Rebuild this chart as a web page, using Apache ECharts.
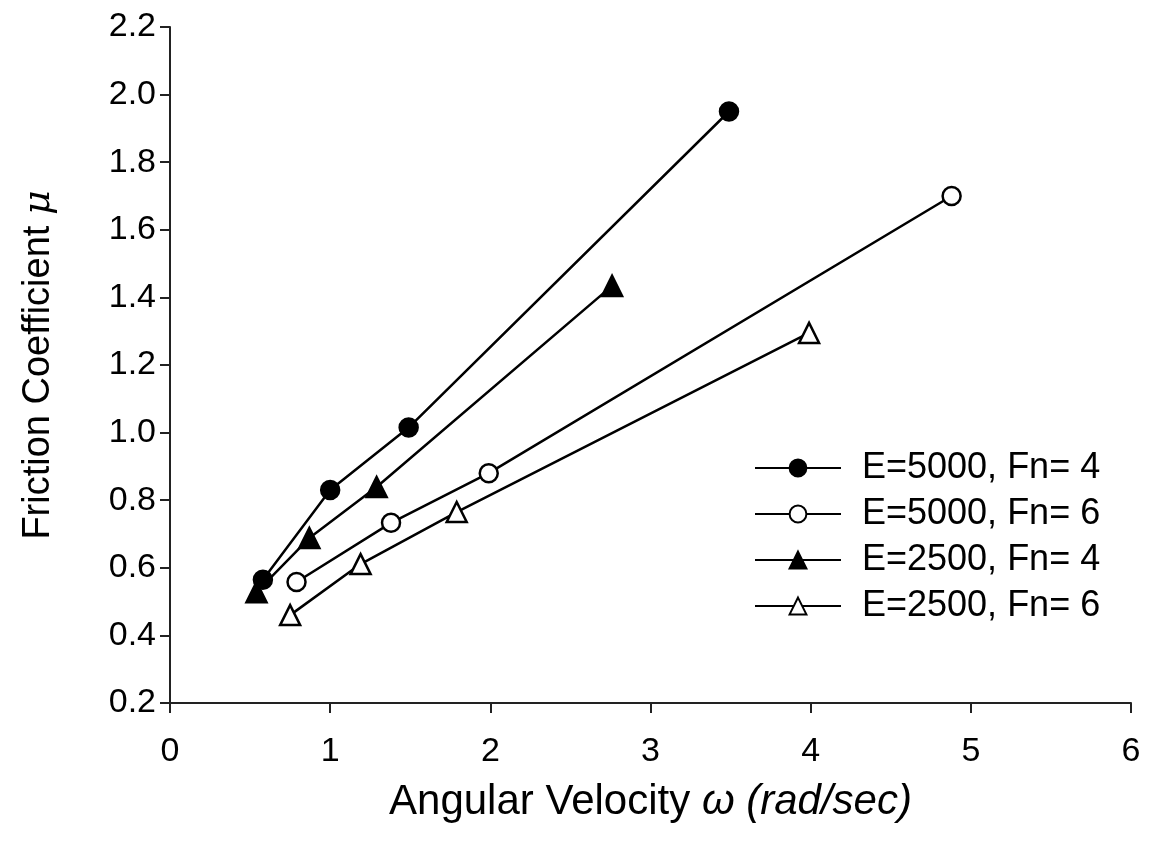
<!DOCTYPE html>
<html>
<head>
<meta charset="utf-8">
<script src="https://cdn.jsdelivr.net/npm/echarts@6/dist/echarts.min.js"></script>
<style>
  html, body { margin: 0; padding: 0; background: #fff; }
  #chart { width: 1152px; height: 850px; }
</style>
</head>
<body>
<div id="chart"></div>
<script>
// series names
var seriesNames = ["E=5000, Fn= 4", "E=5000, Fn= 6", "E=2500, Fn= 4", "E=2500, Fn= 6"];
// [angular velocity, friction coefficient]
var e5000fn4 = [[0.58, 0.565], [1.0, 0.83], [1.49, 1.015], [3.49, 1.95]];
var e5000fn6 = [[0.79, 0.558], [1.38, 0.733], [1.99, 0.88], [4.88, 1.70]];
var e2500fn4 = [[0.54, 0.528], [0.87, 0.688], [1.29, 0.839], [2.76, 1.434]];
var e2500fn6 = [[0.75, 0.46], [1.19, 0.611], [1.79, 0.765], [3.99, 1.295]];

var chart = echarts.init(document.getElementById("chart"));
var font = "Liberation Sans, Arial, sans-serif";

function makeSeries(name, data, symbol, filled) {
  return {
    name: name,
    type: "line",
    data: data,
    symbol: symbol,
    symbolSize: symbol === "circle" ? 18 : 20,
    lineStyle: { color: "#000", width: 2.5 },
    itemStyle: {
      color: filled ? "#000" : "#fff",
      borderColor: "#000",
      borderWidth: 2.5,
    },
    emphasis: { disabled: true },
    z: 3,
  };
}

var option = {
  animation: false,
  backgroundColor: "#fff",
  textStyle: { fontFamily: font },
  grid: { left: 170, right: 21, top: 27, bottom: 147 },
  legend: {
    left: 749,
    top: 443,
    orient: "vertical",
    itemWidth: 86,
    itemHeight: 21,
    itemGap: 6,
    data: seriesNames,
    textStyle: {
      fontSize: 36,
      lineHeight: 40,
      color: "#000",
      fontFamily: font,
      padding: [0, 0, 0, 16],
    },
  },
  xAxis: {
    type: "value",
    min: 0,
    max: 6,
    interval: 1,
    name: "{n|Angular Velocity }{i|ω (rad/sec)}",
    nameLocation: "middle",
    nameGap: 78,
    nameTextStyle: {
      rich: {
        n: { fontSize: 42, color: "#000", fontFamily: font },
        i: { fontSize: 42, color: "#000", fontFamily: font, fontStyle: "italic" },
      },
    },
    axisLine: { show: true, onZero: false, lineStyle: { color: "#222", width: 2 } },
    axisTick: { show: true, length: 10, lineStyle: { color: "#222", width: 2 } },
    axisLabel: { fontSize: 34, color: "#000", margin: 32, fontFamily: font },
    splitLine: { show: false },
  },
  yAxis: {
    type: "value",
    min: 0.2,
    max: 2.2,
    interval: 0.2,
    name: "{n|Friction Coefficient }{i|μ}",
    nameLocation: "middle",
    nameGap: 112,
    nameRotate: 90,
    nameTextStyle: {
      rich: {
        n: { fontSize: 38, color: "#000", fontFamily: font },
        i: { fontSize: 38, color: "#000", fontFamily: "DejaVu Serif, serif", fontStyle: "italic" },
      },
    },
    axisLine: { show: true, onZero: false, lineStyle: { color: "#222", width: 2 } },
    axisTick: { show: true, length: 10, lineStyle: { color: "#222", width: 2 } },
    axisLabel: {
      fontSize: 34,
      color: "#000",
      margin: 14,
      fontFamily: font,
      formatter: function (v) { return v.toFixed(1); },
    },
    splitLine: { show: false },
  },
  series: [
    makeSeries(seriesNames[0], e5000fn4, "circle", true),
    makeSeries(seriesNames[1], e5000fn6, "circle", false),
    makeSeries(seriesNames[2], e2500fn4, "triangle", true),
    makeSeries(seriesNames[3], e2500fn6, "triangle", false),
  ],
};
chart.setOption(option);
</script>
</body>
</html>
